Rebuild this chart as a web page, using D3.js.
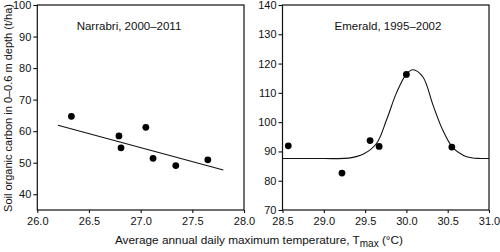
<!DOCTYPE html>
<meta charset="utf-8">
<script src="https://d3js.org/d3.v7.min.js"></script>
<style>
  body { margin: 0; background: #fff; }
  svg text { font-family: "Liberation Sans", Arial, sans-serif; fill: #111; }
</style>
<div id="chart"></div>
<script>
// Narrabri panel
const narTemp = [26.33, 26.79, 26.81, 27.05, 27.12, 27.34, 27.65];
const narSoc  = [64.7, 58.5, 54.7, 61.2, 51.4, 49.1, 50.9];
const narFit  = [[26.2, 61.9], [27.8, 47.7]];

// Emerald panel
const emeTemp = [28.57, 29.22, 29.56, 29.67, 30.0, 30.55];
const emeSoc  = [91.9, 82.6, 93.7, 91.7, 116.3, 91.5];
// fitted curve
const emeFit = [[28.5, 87.6], [29.0, 87.6], [29.3, 87.7], [29.48, 89.1], [29.64, 92.8],
  [29.76, 100.8], [29.88, 110.0], [30.0, 116.4], [30.08, 117.9], [30.2, 115.4],
  [30.32, 106.0], [30.44, 97.3], [30.56, 91.4], [30.73, 88.2], [30.9, 87.6], [31.0, 87.6]];

const narXTicks = [26.0, 26.5, 27.0, 27.5, 28.0];
const narYTicks = [40, 50, 60, 70, 80, 90, 100];
const emeXTicks = [28.5, 29.0, 29.5, 30.0, 30.5, 31.0];
const emeYTicks = [70, 80, 90, 100, 110, 120, 130, 140];

const W = 500, H = 252;
const plotTop = 5, plotBottom = 210;

const svg = d3.select("#chart").append("svg")
    .attr("width", W).attr("height", H);

function panel(opt) {
    const x = d3.scaleLinear().domain(opt.xDomain).range([opt.left, opt.right]);
    const y = d3.scaleLinear().domain(opt.yDomain).range([plotBottom, plotTop]);
    const g = svg.append("g");

    // frame
    g.append("rect")
        .attr("x", opt.left).attr("y", plotTop)
        .attr("width", opt.right - opt.left).attr("height", plotBottom - plotTop)
        .attr("fill", "none").attr("stroke", "#111").attr("stroke-width", 1.2);

    // axes
    const ax = g.append("g")
        .attr("transform", `translate(0,${plotBottom})`)
        .call(d3.axisBottom(x).tickValues(opt.xTicks).tickFormat(d3.format(".1f"))
            .tickSize(3).tickPadding(4));
    const ay = g.append("g")
        .attr("transform", `translate(${opt.left},0)`)
        .call(d3.axisLeft(y).tickValues(opt.yTicks).tickSize(4).tickPadding(2));
    [ax, ay].forEach(a => {
        a.select(".domain").remove();
        a.selectAll("line").attr("stroke", "#111").attr("stroke-width", 1.1);
        a.selectAll("text").attr("font-size", 11).style("font-family", "Liberation Sans, Arial, sans-serif").attr("fill", "#111");
    });

    // fitted line / curve
    g.append("path")
        .datum(opt.fit)
        .attr("fill", "none").attr("stroke", "#111").attr("stroke-width", 1.1)
        .attr("d", d3.line().x(d => x(d[0])).y(d => y(d[1])).curve(d3.curveCatmullRom.alpha(0.5)));

    // points
    g.selectAll("circle")
        .data(opt.xs.map((v, i) => [v, opt.ys[i]]))
        .join("circle")
        .attr("cx", d => x(d[0])).attr("cy", d => y(d[1]))
        .attr("r", 3.4).attr("fill", "#000");

    g.append("text")
        .attr("x", opt.titleX).attr("y", 30)
        .attr("text-anchor", "middle").attr("font-size", 11.5)
        .text(opt.title);
}

panel({
    left: 37.3, right: 244, xDomain: [26, 28], yDomain: [35, 100],
    xTicks: narXTicks, yTicks: narYTicks,
    xs: narTemp, ys: narSoc, fit: narFit,
    title: "Narrabri, 2000\u20132011", titleX: 129
});

panel({
    left: 282.5, right: 489, xDomain: [28.5, 31], yDomain: [70, 140],
    xTicks: emeXTicks, yTicks: emeYTicks,
    xs: emeTemp, ys: emeSoc, fit: emeFit,
    title: "Emerald, 1995\u20132002", titleX: 388
});

// axis titles
svg.append("text")
    .attr("transform", "translate(12,108) rotate(-90)")
    .attr("text-anchor", "middle").attr("font-size", 11)
    .text("Soil organic carbon in 0\u20130.6 m depth (t/ha)");

const xt = svg.append("text")
    .attr("x", 259).attr("y", 244)
    .attr("text-anchor", "middle").attr("font-size", 11.8);
xt.append("tspan").text("Average annual daily maximum temperature, T");
xt.append("tspan").attr("dy", 3).attr("font-size", 10).text("max");
xt.append("tspan").attr("dy", -3).text(" (\u00b0C)");
</script>
